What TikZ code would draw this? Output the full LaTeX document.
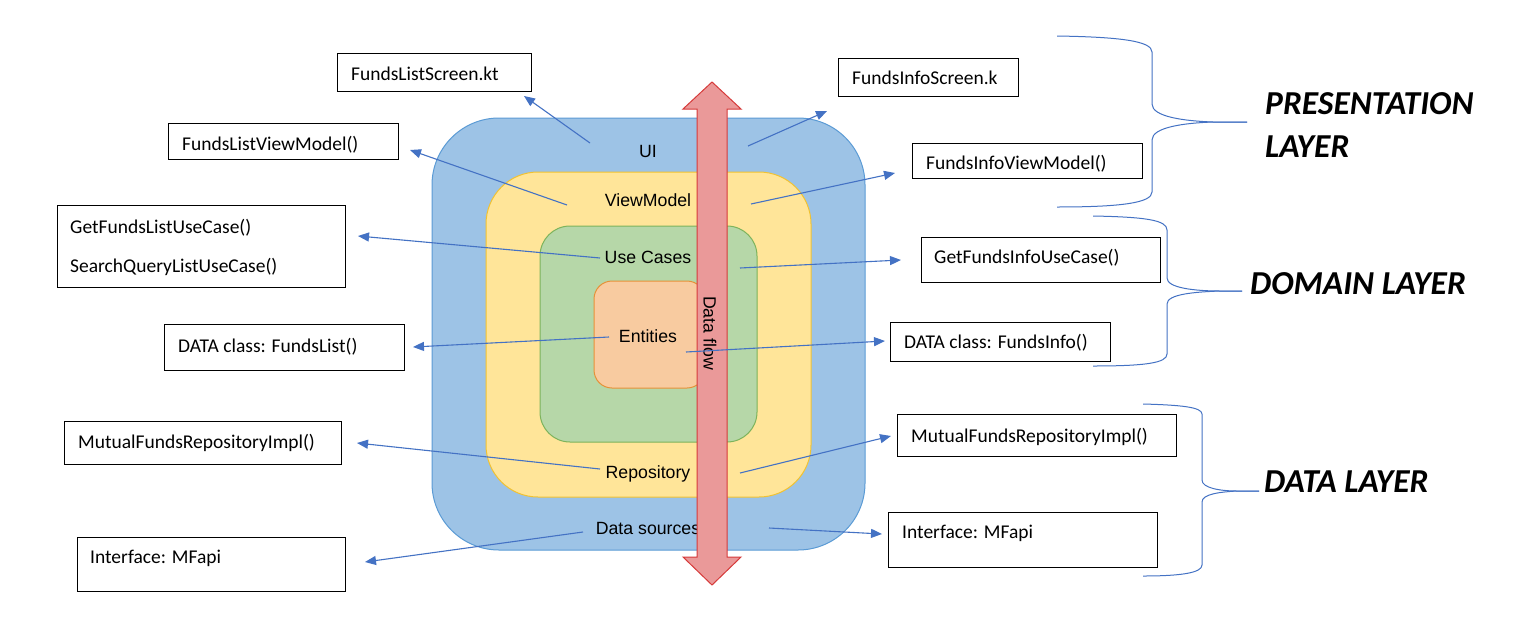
\documentclass[tikz,border=0pt]{standalone}
\usepackage{fontspec}
\setmainfont{Carlito}
\newfontfamily\arialf{Liberation Sans}
\usetikzlibrary{arrows.meta}
\definecolor{uiblue}{HTML}{9DC3E6}
\definecolor{uiblueline}{HTML}{5B9BD5}
\definecolor{vmyellow}{HTML}{FFE599}
\definecolor{vmyellowline}{HTML}{F1C232}
\definecolor{ucgreen}{HTML}{B6D7A8}
\definecolor{ucgreenline}{HTML}{7DB35B}
\definecolor{entorange}{HTML}{F8CBA0}
\definecolor{entorangeline}{HTML}{E69138}
\definecolor{flowred}{HTML}{EA9999}
\definecolor{flowredline}{HTML}{D63A3A}
\definecolor{conncol}{HTML}{4472C4}
\begin{document}
\begin{tikzpicture}[x=1pt,y=-1pt,
  codebox/.style={draw=black, line width=1pt, rectangle, inner sep=0pt, anchor=north west},
  codetext/.style={anchor=base west, inner sep=0pt, font=\fontsize{19.5}{24}\selectfont},
  ringlabel/.style={anchor=base, inner sep=0pt, font=\arialf\fontsize{17.7}{21}\selectfont},
  conn/.style={draw=conncol, line width=1.1pt, -{Triangle[length=11pt,width=9pt]}},
  layerbrace/.style={draw=conncol, line width=1pt},
  layertext/.style={anchor=base west, inner sep=0pt, font=\fontsize{33.5}{40}\selectfont\bfseries\itshape},
  ring/.style={line width=1pt}]
\fill[white] (0,0) rectangle (1530,643);
\useasboundingbox (0,0) rectangle (1530,643);

% rings
\draw[ring, fill=uiblue, draw=uiblueline, rounded corners=67pt] (432,118) rectangle (865,550);
\draw[ring, fill=vmyellow, draw=vmyellowline, rounded corners=52pt] (486,172) rectangle (811,497);
\draw[ring, fill=ucgreen, draw=ucgreenline, rounded corners=30pt] (540,226) rectangle (757,442);
\draw[ring, fill=entorange, draw=entorangeline, rounded corners=18pt] (594,281) rectangle (705,388);

% ring labels
\node[ringlabel] (lui) at (648,157) {UI};
\node[ringlabel] (lvm) at (648,206) {ViewModel};
\node[ringlabel] (luc) at (648,263) {Use Cases};
\node[ringlabel] (len) at (648,342) {Entities};
\node[ringlabel] (lrp) at (648,478) {Repository};
\node[ringlabel] (lds) at (648,534) {Data sources};

% code boxes left
\node[codebox, minimum width=194pt, minimum height=38pt] (b1) at (337,53) {};
\node[codetext] (t1) at (351,80) {FundsListScreen.kt};
\node[codebox, minimum width=230pt, minimum height=36pt] (b2) at (168,123) {};
\node[codetext] (t2) at (182,150) {FundsListViewModel()};
\node[codebox, minimum width=288pt, minimum height=82pt] (b3) at (57,205) {};
\node[codetext] (t3a) at (70,233) {GetFundsListUseCase()};
\node[codetext] (t3b) at (70,272) {SearchQueryListUseCase()};
\node[codebox, minimum width=240pt, minimum height=46pt] (b4) at (164,324) {};
\node[codetext] (t4) at (178,352) {DATA class: FundsList()};
\node[codebox, minimum width=277pt, minimum height=43pt] (b5) at (64,421) {};
\node[codetext] (t5) at (78,448) {MutualFundsRepositoryImpl()};
\node[codebox, minimum width=268pt, minimum height=54pt] (b6) at (77,537) {};
\node[codetext] (t6) at (90,563) {Interface: MFapi};

% code boxes right
\node[codebox, minimum width=180pt, minimum height=38pt] (b7) at (838,58) {};
\node[codetext] (t7) at (852,84) {FundsInfoScreen.k};
\node[codebox, minimum width=230pt, minimum height=35pt] (b8) at (912,143) {};
\node[codetext] (t8) at (926,169) {FundsInfoViewModel()};
\node[codebox, minimum width=239pt, minimum height=45pt] (b9) at (921,237) {};
\node[codetext] (t9) at (934,263) {GetFundsInfoUseCase()};
\node[codebox, minimum width=220pt, minimum height=39pt] (b10) at (890,322) {};
\node[codetext] (t10) at (904,348) {DATA class: FundsInfo()};
\node[codebox, minimum width=279pt, minimum height=42pt] (b11) at (897,414) {};
\node[codetext] (t11) at (911,442) {MutualFundsRepositoryImpl()};
\node[codebox, minimum width=269pt, minimum height=55pt] (b12) at (888,512) {};
\node[codetext] (t12) at (902,538) {Interface: MFapi};

% connector end points
\coordinate (s1) at (590,143);  \coordinate (e1) at (524,96);
\coordinate (s2) at (567,205);  \coordinate (e2) at (410,150);
\coordinate (s3) at (600,258);  \coordinate (e3) at (358,236);
\coordinate (s4) at (609,337);  \coordinate (e4) at (413,347);
\coordinate (s5) at (600,469);  \coordinate (e5) at (357,443);
\coordinate (s6) at (583,532);  \coordinate (e6) at (365,562);
\coordinate (s7) at (748,146);  \coordinate (e7) at (827,111);
\coordinate (s8) at (751,204);  \coordinate (e8) at (895,173);
\coordinate (s9) at (740,268);  \coordinate (e9) at (901,260);
\coordinate (s10) at (686,352); \coordinate (e10) at (885,341);
\coordinate (s11) at (740,473); \coordinate (e11) at (891,436);
\coordinate (s12) at (769,528); \coordinate (e12) at (882,534);

\draw[conn] (s1) -- (e1);
\draw[conn] (s2) -- (e2);
\draw[conn] (s3) -- (e3);
\draw[conn] (s4) -- (e4);
\draw[conn] (s5) -- (e5);
\draw[conn] (s6) -- (e6);
\draw[conn] (s7) -- (e7);
\draw[conn] (s8) -- (e8);
\draw[conn] (s9) -- (e9);
\draw[conn] (s11) -- (e11);
\draw[conn] (s12) -- (e12);

% data flow arrow
\draw[fill=flowred, draw=flowredline, line width=1pt]
  (712,82) -- (741,109) -- (727,109) -- (727,557) -- (741,557) -- (712,585)
  -- (683,557) -- (697,557) -- (697,109) -- (683,109) -- cycle;
\node[font=\arialf\fontsize{17.7}{21}\selectfont, rotate=-90, inner sep=0pt] (flow) at (710,333) {Data flow};

\draw[conn] (s10) -- (e10);

% braces
\draw[layerbrace] (1057,36) .. controls (1120,37) and (1152,41) .. (1152,52) -- (1152,104)
  .. controls (1152,117) and (1185,121) .. (1213,122) -- (1247,122);
\draw[layerbrace] (1247,122) -- (1213,122) .. controls (1185,123) and (1152,127) .. (1152,140)
  -- (1152,192) .. controls (1152,203) and (1120,207) .. (1057,207);

\draw[layerbrace] (1093,216) .. controls (1145,217) and (1167,220) .. (1167,230) -- (1167,278)
  .. controls (1167,288) and (1195,291) .. (1220,291) -- (1242,291);
\draw[layerbrace] (1242,291) -- (1220,291) .. controls (1195,292) and (1167,294) .. (1167,304)
  -- (1167,354) .. controls (1167,363) and (1145,366) .. (1093,366);

\draw[layerbrace] (1143,404) .. controls (1180,405) and (1202,407) .. (1202,414) -- (1202,480)
  .. controls (1202,488) and (1220,491) .. (1237,491) -- (1259,491);
\draw[layerbrace] (1259,491) -- (1237,491) .. controls (1220,492) and (1202,494) .. (1202,502)
  -- (1202,565) .. controls (1202,573) and (1180,576) .. (1143,576);

\node[layertext] (pl1) at (1265,114) {PRESENTATION};
\node[layertext] (pl2) at (1265,157) {LAYER};
\node[layertext] (dl) at (1250,294) {DOMAIN LAYER};
\node[layertext] (dal) at (1264,492) {DATA LAYER};
\end{tikzpicture}
\end{document}
